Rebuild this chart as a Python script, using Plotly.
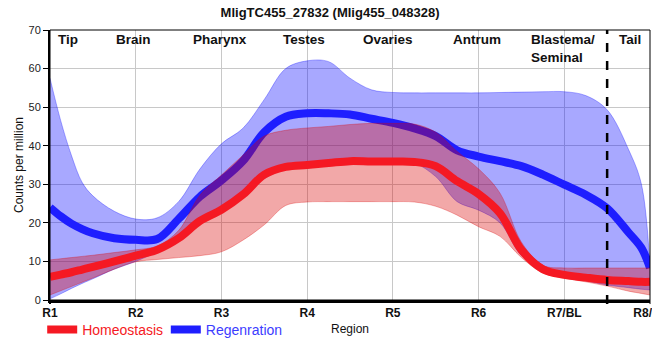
import plotly.graph_objects as go

# ---- data ----
x_pos = [1, 1.125, 1.25, 1.375, 1.5, 1.75, 2, 2.25, 2.5, 2.75, 3, 3.25, 3.5, 3.75, 4, 4.25, 4.5,
         4.75, 5, 5.25, 5.5, 5.75, 6, 6.25, 6.5, 6.75, 7, 7.25, 7.5, 7.75, 7.9, 8]
tick_vals = [1, 2, 3, 4, 5, 6, 7, 8]
tick_labels = ["R1", "R2", "R3", "R4", "R5", "R6", "R7/BL", "R8/TL"]

regen_mean = [24, 21.7, 19.8, 18.4, 17.3, 16.0, 15.6, 15.8, 21, 26.8, 31, 36, 43.5, 47.5, 48.4, 48.4, 48.1,
              47, 45.9, 44.5, 42.5, 38.8, 37.2, 36, 34.7, 32.5, 29.9, 27.3, 23.8, 17.5, 13.5, 8.3]
regen_upper = [57.5, 46.5, 37.5, 30.5, 27, 23, 21, 21.3, 25.5, 34, 40.5, 44.5, 52, 60, 62, 61.8, 57.5,
               54.5, 53.8, 53.7, 53.7, 53.7, 53.7, 53.8, 53.9, 54, 54, 53, 49.3, 39, 30, 8.6]
regen_lower = [0.3, 1.6, 3, 4.3, 5.5, 8, 10, 12.5, 15.5, 20.5, 24, 27.5, 31.5, 34, 35, 35.5, 35.8,
               36, 36, 35.5, 32, 25.5, 23.3, 20, 11.5, 8.2, 6.2, 5, 3.9, 3.2, 2.8, 2.6]

homeo_mean = [6, 6.6, 7.2, 7.9, 8.6, 10, 11.5, 13, 16, 20.5, 23.4, 27.3, 32.5, 34.5, 35, 35.5, 36,
              35.9, 35.9, 35.8, 34.7, 30.8, 27.5, 22.5, 13, 8, 6.5, 5.8, 5.2, 4.9, 4.7, 4.7]
homeo_upper = [10.4, 10.7, 11, 11.3, 11.6, 12.3, 13, 14, 18, 27.2, 32.4, 37.5, 42.5, 44, 44.6, 45, 45.5,
               45.8, 45.8, 45.6, 43.5, 38.5, 34, 27.7, 15, 9, 8.3, 8.3, 8.3, 8.3, 8.3, 8.3]
homeo_lower = [1.3, 2.4, 3.5, 4.6, 5.7, 8, 9.9, 10.5, 11, 11.5, 12.5, 15.5, 19.5, 24.5, 25.4, 25.5, 25.5,
               25.5, 25.5, 25.4, 24.3, 22, 19, 16.5, 11, 7, 5.7, 4.7, 3.6, 2.3, 1.7, 1.3]

region_names = ["Tip", "Brain", "Pharynx", "Testes", "Ovaries", "Antrum", "Blastema/<br>Seminal", "Tail"]
region_x = [1.21, 1.97, 2.98, 3.96, 4.94, 5.98, 6.99, 7.77]

RED = "rgb(245,25,35)"
BLUE = "rgb(30,30,255)"
FONT = "Liberation Sans, Arial, sans-serif"

fig = go.Figure()

# Regeneration band + line
fig.add_trace(go.Scatter(x=x_pos, y=regen_lower, mode="lines", line=dict(color="rgba(0,0,255,0.3)", width=1, shape="spline"),
                         showlegend=False, hoverinfo="skip"))
fig.add_trace(go.Scatter(x=x_pos, y=regen_upper, mode="lines", line=dict(color="rgba(0,0,255,0.3)", width=1, shape="spline"),
                         fill="tonexty", fillcolor="rgba(0,0,255,0.34)", showlegend=False, hoverinfo="skip"))
fig.add_trace(go.Scatter(x=x_pos, y=regen_mean, mode="lines", name="Regenration",
                         line=dict(color=BLUE, width=8, shape="spline"), legend="legend2"))

# Homeostasis band + line
fig.add_trace(go.Scatter(x=x_pos, y=homeo_lower, mode="lines", line=dict(color="rgba(217,0,0,0.3)", width=1, shape="spline"),
                         showlegend=False, hoverinfo="skip"))
fig.add_trace(go.Scatter(x=x_pos, y=homeo_upper, mode="lines", line=dict(color="rgba(217,0,0,0.3)", width=1, shape="spline"),
                         fill="tonexty", fillcolor="rgba(217,0,0,0.34)", showlegend=False, hoverinfo="skip"))
fig.add_trace(go.Scatter(x=x_pos, y=homeo_mean, mode="lines", name="Homeostasis",
                         line=dict(color=RED, width=8, shape="spline"), legend="legend"))

annotations = []
for name, xv in zip(region_names, region_x):
    annotations.append(dict(x=xv, y=70, xref="x", yref="y", text="<b>" + name + "</b>", showarrow=False,
                            xanchor="center", yanchor="top", align="left",
                            font=dict(family=FONT, size=13.5, color="#111")))

# page body has an 8px margin, so margins are offset to keep the plot area in place
fig.update_layout(
    width=660, height=360,
    margin=dict(l=42, r=18, t=22, b=68, autoexpand=False),
    paper_bgcolor="white", plot_bgcolor="white",
    font=dict(family=FONT, size=11, color="#222"),
    title=dict(text="<b>MligTC455_27832 (Mlig455_048328)</b>", x=0.488, xref="container", xanchor="center",
               y=1.0, yref="container", yanchor="top", pad=dict(t=0),
               font=dict(family=FONT, size=13, color="#111")),
    xaxis=dict(range=[1, 8], tickvals=tick_vals, ticktext=["<b>" + t + "</b>" for t in tick_labels],
               tickfont=dict(family=FONT, size=12, color="#111"), automargin=False,
               showgrid=True, gridcolor="#c8c8c8", gridwidth=1, zeroline=False,
               showline=True, linecolor="black", linewidth=3, ticks="",
               title=dict(text="Region", font=dict(family=FONT, size=12, color="#111"), standoff=6)),
    yaxis=dict(range=[0, 70], dtick=10, tickfont=dict(family=FONT, size=11, color="#222"), automargin=False,
               showgrid=True, gridcolor="#c8c8c8", gridwidth=1, zeroline=False,
               showline=True, linecolor="black", linewidth=2,
               ticks="outside", ticklen=5, tickcolor="black", tickwidth=1,
               title=dict(text="Counts per million", font=dict(family=FONT, size=12, color="#111"), standoff=2)),
    legend=dict(x=-0.013, y=-0.111, xanchor="left", yanchor="middle", orientation="h",
                font=dict(family=FONT, size=14, color=RED), itemwidth=30, bgcolor="rgba(0,0,0,0)"),
    legend2=dict(x=0.193, y=-0.111, xanchor="left", yanchor="middle", orientation="h",
                 font=dict(family=FONT, size=14, color="rgb(60,60,255)"), itemwidth=30, bgcolor="rgba(0,0,0,0)"),
    annotations=annotations,
    shapes=[
        dict(type="rect", xref="paper", yref="paper", x0=0, x1=1, y0=0, y1=1,
             line=dict(color="black", width=1), layer="above"),
        dict(type="line", xref="x", yref="paper", x0=7.5, x1=7.5, y0=-0.015, y1=1,
             line=dict(color="black", width=2.5, dash="dash"), layer="above"),
        dict(type="line", xref="paper", yref="paper", x0=0, x1=0, y0=-0.015, y1=0,
             line=dict(color="black", width=2), layer="above"),
        dict(type="line", xref="paper", yref="paper", x0=1, x1=1, y0=-0.015, y1=0,
             line=dict(color="black", width=1), layer="above"),
    ],
)

fig.write_html("out.html")
